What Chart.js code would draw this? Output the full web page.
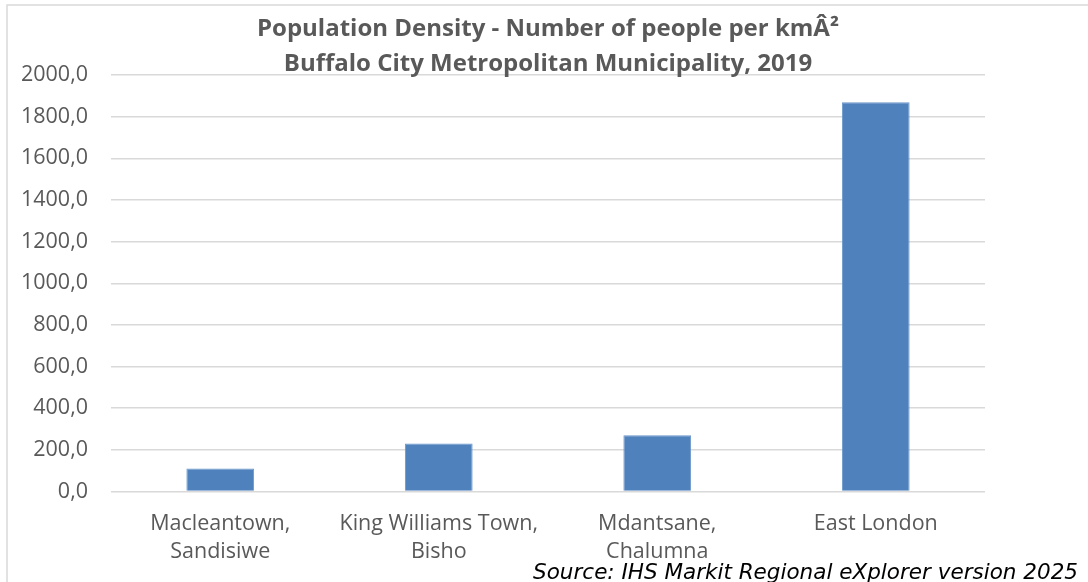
<!DOCTYPE html>
<html>
<head>
<meta charset="utf-8">
<title>Population Density - Buffalo City</title>
<script src="https://cdn.jsdelivr.net/npm/chart.js@4/dist/chart.umd.min.js"></script>
<style>
    html, body { margin: 0; padding: 0; background: #ffffff; }
    #wrap { position: relative; width: 1088px; height: 582px; }
</style>
</head>
<body>
<div id="wrap"><canvas id="densityChart"></canvas></div>
<script>
/* ================= DATA ================= */
const categories = [
    ["Macleantown,", "Sandisiwe"],
    ["King Williams Town,", "Bisho"],
    ["Mdantsane,", "Chalumna"],
    "East London"
];
const densityValues = [111, 231, 270, 1869];
const yTicks = [0, 200, 400, 600, 800, 1000, 1200, 1400, 1600, 1800, 2000];

const titleLines = [
    "Population Density - Number of people per kmÂ²",
    "Buffalo City Metropolitan Municipality, 2019"
];
const sourceText = "Source: IHS Markit Regional eXplorer version 2025";

const FONT = "'Open Sans', 'Noto Sans', sans-serif";
const GREY = "#595959";

/* ================= FRAME + SOURCE ================= */
const framePlugin = {
    id: "frameAndSource",
    afterDraw(chart) {
        const ctx = chart.ctx;
        ctx.save();
        ctx.strokeStyle = "#d9d9d9";
        ctx.lineWidth = 1.5;
        ctx.beginPath();
        ctx.moveTo(7, chart.height);
        ctx.lineTo(7, 5);
        ctx.lineTo(chart.width, 5);
        ctx.stroke();

        ctx.fillStyle = "#000000";
        ctx.font = "italic 21.5px 'DejaVu Sans', Verdana, sans-serif";
        ctx.textAlign = "right";
        ctx.textBaseline = "alphabetic";
        ctx.fillText(sourceText, 1078, 579);
        ctx.restore();
    }
};

/* ================= CHART ================= */
const ctx = document.getElementById("densityChart").getContext("2d");

new Chart(ctx, {
    type: "bar",
    data: {
        labels: categories,
        datasets: [{
            data: densityValues,
            backgroundColor: "#4f81bd",
            borderColor: "#6a96cb",
            borderWidth: 1,
            categoryPercentage: 1,
            barPercentage: 0.31
        }]
    },
    options: {
        responsive: true,
        maintainAspectRatio: false,
        animation: false,
        layout: {
            padding: { left: 0, right: 103, top: 0, bottom: 0 }
        },
        plugins: {
            legend: { display: false },
            tooltip: { enabled: false },
            title: {
                display: true,
                fullSize: false,
                text: titleLines,
                color: GREY,
                font: { family: FONT, size: 24, weight: "bold", lineHeight: "35px" },
                padding: { top: 12, bottom: -7 }
            }
        },
        scales: {
            x: {
                grid: { display: false, drawTicks: false },
                border: { display: false },
                ticks: {
                    color: GREY,
                    font: { family: FONT, size: 21.5, lineHeight: "28px" },
                    padding: 18,
                    maxRotation: 0,
                    autoSkip: false
                },
                afterFit(scale) { scale.height = 90.5; }
            },
            y: {
                min: 0,
                max: 2000,
                afterBuildTicks(scale) {
                    scale.ticks = yTicks.map(v => ({ value: v }));
                },
                grid: { color: "#d9d9d9", lineWidth: 1.5, drawTicks: false },
                border: { display: false },
                ticks: {
                    color: GREY,
                    font: { family: FONT, size: 21.5 },
                    padding: 23,
                    callback: value => value.toFixed(1).replace(".", ",")
                },
                afterFit(scale) { scale.width = 111; }
            }
        }
    },
    plugins: [framePlugin]
});
</script>
</body>
</html>
